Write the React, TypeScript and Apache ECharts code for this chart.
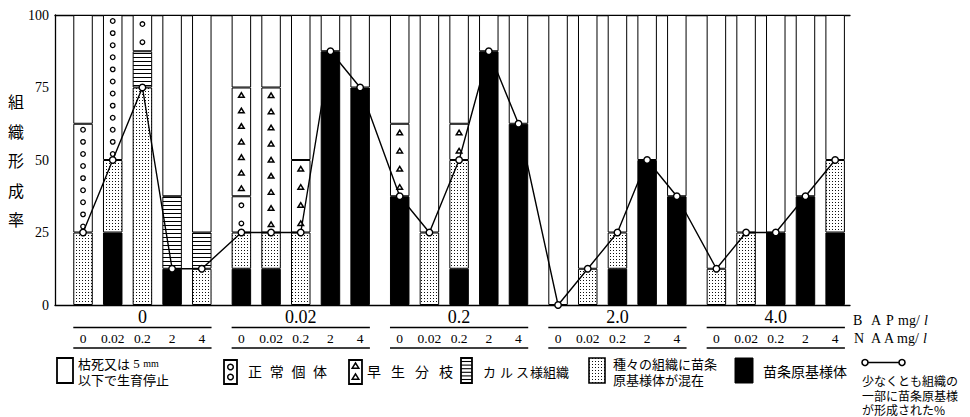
import React, { useEffect, useRef } from 'react';
import * as echarts from 'echarts';

// ---- data (order: BAP group, then NAA level within group) ----
const BAP_LEVELS = ['0', '0.02', '0.2', '2.0', '4.0'];
const NAA_LEVELS = ['0', '0.02', '0.2', '2', '4'];
const Y_MIN = 0;
const Y_MAX = 100;
const Y_STEP = 25;

// 苗条原基様体 (black)
const shootPrimordia = [0, 25, 0, 12.5, 0, 12.5, 12.5, 0, 87.5, 75, 37.5, 0, 12.5, 87.5, 62.5, 0, 0, 12.5, 50, 37.5, 0, 0, 25, 37.5, 25];
// 種々の組織に苗条原基様体が混在 (dotted)
const mixedTissue = [25, 25, 75, 0, 12.5, 12.5, 12.5, 25, 0, 0, 0, 25, 37.5, 0, 0, 0, 12.5, 12.5, 0, 0, 12.5, 25, 0, 0, 25];
// カルス様組織 (horizontal lines)
const callusTissue = [0, 0, 12.5, 25, 12.5, 0, 0, 0, 0, 0, 0, 0, 0, 0, 0, 0, 0, 0, 0, 0, 0, 0, 0, 0, 0];
// 正常個体 (circles)
const normalPlants = [37.5, 50, 12.5, 0, 0, 12.5, 0, 0, 0, 0, 0, 0, 0, 0, 0, 0, 0, 0, 0, 0, 0, 0, 0, 0, 0];
// 早生分枝 (triangles)
const earlyBranching = [0, 0, 0, 0, 0, 37.5, 50, 25, 0, 0, 25, 0, 12.5, 0, 0, 0, 0, 0, 0, 0, 0, 0, 0, 0, 0];
// 少なくとも組織の一部に苗条原基様体が形成された%
const formationRate = [25, 50, 75, 12.5, 12.5, 25, 25, 25, 87.5, 75, 37.5, 25, 50, 87.5, 62.5, 0, 12.5, 25, 50, 37.5, 12.5, 25, 25, 37.5, 50];

// ---- layout helpers: fine category slots so that groups are separated by wider gaps ----
const SLOT_COUNT = 241;
const FIRST_SLOT = 8;
const BAR_SLOTS = 9;
const GROUP_SLOTS = 48;
const BAR_W = 19.5;

const CJK = 'Noto Sans CJK JP';
const SERIF = 'Liberation Serif';

const slotOf = (i: number) => FIRST_SLOT + Math.floor(i / 5) * GROUP_SLOTS + (i % 5) * BAR_SLOTS;
const idx = shootPrimordia.map((_, i) => i);
const slots = Array.from({ length: SLOT_COUNT }, (_, k) => String(k));

function makeDots() {
  const c = document.createElement('canvas');
  c.width = 3;
  c.height = 3;
  const ctx = c.getContext('2d')!;
  ctx.fillStyle = '#fff';
  ctx.fillRect(0, 0, 3, 3);
  ctx.fillStyle = '#111';
  ctx.fillRect(1, 1, 1, 1);
  return c;
}
function makeLines() {
  const c = document.createElement('canvas');
  c.width = 4;
  c.height = 4;
  const ctx = c.getContext('2d')!;
  ctx.fillStyle = '#fff';
  ctx.fillRect(0, 0, 4, 4);
  ctx.fillStyle = '#000';
  ctx.fillRect(0, 1, 4, 1);
  return c;
}

function txt(text: string, x: number, y: number, size: number, family = CJK, extra: any = {}) {
  return {
    type: 'text',
    x,
    y,
    silent: true,
    style: {
      text,
      fill: '#000',
      fontSize: size,
      fontFamily: family,
      align: 'left',
      verticalAlign: 'middle',
      textAlign: 'left',
      textVerticalAlign: 'middle',
      ...extra,
    },
  };
}

export default function App() {
  const ref = useRef<HTMLDivElement>(null);

  useEffect(() => {
    if (!ref.current) return;
    const chart = echarts.init(ref.current, undefined, { renderer: 'svg' });
    const dots = makeDots();
    const lines = makeLines();

    const dead = idx.map(
      (i) => Y_MAX - shootPrimordia[i] - mixedTissue[i] - callusTissue[i] - normalPlants[i] - earlyBranching[i]
    );

    const toSlots = (values: number[]) => {
      const arr: any[] = slots.map(() => '-');
      idx.forEach((i) => {
        arr[slotOf(i)] =
          values[i] > 0 ? values[i] : { value: 0, itemStyle: { opacity: 0, borderWidth: 0 } };
      });
      return arr;
    };

    const barSeries = (name: string, values: number[], color: any) => ({
      name,
      type: 'bar',
      stack: 'total',
      barWidth: BAR_W,
      data: toSlots(values),
      itemStyle: { color, borderColor: '#000', borderWidth: 1 },
      emphasis: { disabled: true },
      silent: true,
      z: 2,
    });

    const lineData: any[] = slots.map(() => '-');
    idx.forEach((i) => (lineData[slotOf(i)] = formationRate[i]));

    const legendGraphics: any[] = [];
    // 1. 枯死
    legendGraphics.push({ type: 'rect', shape: { x: 57, y: 358, width: 16, height: 25 }, style: { fill: '#fff', stroke: '#000', lineWidth: 1.8 } });
    legendGraphics.push({
      type: 'text',
      x: 78,
      y: 371,
      silent: true,
      style: {
        text: '{a|枯死又は} {b|5} {c|mm}\n{a|以下で生育停止}',
        fill: '#000',
        align: 'left',
        verticalAlign: 'middle',
        textAlign: 'left',
        textVerticalAlign: 'middle',
        rich: {
          a: { fontSize: 13, fontFamily: CJK, lineHeight: 16 },
          b: { fontSize: 13, fontFamily: SERIF, lineHeight: 16 },
          c: { fontSize: 10, fontFamily: SERIF, lineHeight: 16 },
        },
      },
    });
    // 2. 正常個体
    legendGraphics.push({ type: 'rect', shape: { x: 224, y: 360, width: 13, height: 24 }, style: { fill: '#fff', stroke: '#000', lineWidth: 1.8 } });
    legendGraphics.push({ type: 'circle', shape: { cx: 230.5, cy: 367, r: 2.8 }, style: { fill: '#fff', stroke: '#000', lineWidth: 1.5 } });
    legendGraphics.push({ type: 'circle', shape: { cx: 230.5, cy: 377, r: 2.8 }, style: { fill: '#fff', stroke: '#000', lineWidth: 1.5 } });
    '正常個体'.split('').forEach((ch, k) => legendGraphics.push(txt(ch, 248 + k * 21.7, 371, 14)));
    // 3. 早生分枝
    legendGraphics.push({ type: 'rect', shape: { x: 349, y: 360, width: 13, height: 24 }, style: { fill: '#fff', stroke: '#000', lineWidth: 1.8 } });
    [366, 377].forEach((cy) =>
      legendGraphics.push({
        type: 'polygon',
        shape: { points: [[355.5, cy - 3], [352.2, cy + 2.2], [358.8, cy + 2.2]] },
        style: { fill: '#fff', stroke: '#000', lineWidth: 1.5 },
      })
    );
    '早生分枝'.split('').forEach((ch, k) => legendGraphics.push(txt(ch, 367 + k * 24, 371, 14)));
    // 4. カルス様組織
    legendGraphics.push({ type: 'rect', shape: { x: 461, y: 358, width: 11, height: 25 }, style: { fill: '#fff', stroke: '#000', lineWidth: 1.8 } });
    for (let k = 0; k < 6; k++) {
      const yy = 361.5 + k * 3.6;
      legendGraphics.push({ type: 'line', shape: { x1: 461, y1: yy, x2: 472, y2: yy }, style: { stroke: '#000', lineWidth: 1.1 } });
    }
    legendGraphics.push(txt('カ', 483, 371, 13));
    legendGraphics.push(txt('ル', 500, 371, 13));
    legendGraphics.push(txt('ス', 516, 371, 13));
    legendGraphics.push(txt('様組織', 530, 371, 13));
    // 5. 種々の組織に苗条原基様体が混在
    legendGraphics.push({ type: 'rect', shape: { x: 589, y: 358, width: 16, height: 25 }, style: { fill: { image: dots, repeat: 'repeat' }, stroke: '#000', lineWidth: 1.6 } });
    legendGraphics.push(txt('種々の組織に苗条\n原基様体が混在', 613, 371, 13, CJK, { lineHeight: 16 }));
    // 6. 苗条原基様体
    legendGraphics.push({ type: 'rect', shape: { x: 735, y: 358, width: 18, height: 25 }, style: { fill: '#000', stroke: '#000', lineWidth: 1 } });
    legendGraphics.push(txt('苗条原基様体', 763, 371, 14));
    // 7. line legend
    legendGraphics.push({ type: 'line', shape: { x1: 865, y1: 362.5, x2: 902, y2: 362.5 }, style: { stroke: '#000', lineWidth: 1.5 } });
    legendGraphics.push({ type: 'circle', shape: { cx: 865, cy: 362.5, r: 3 }, style: { fill: '#fff', stroke: '#000', lineWidth: 1.6 } });
    legendGraphics.push({ type: 'circle', shape: { cx: 902, cy: 362.5, r: 3 }, style: { fill: '#fff', stroke: '#000', lineWidth: 1.6 } });
    legendGraphics.push(txt('少なくとも組織の\n一部に苗条原基様\nが形成された%', 862, 395, 12, CJK, { lineHeight: 14.5 }));
    // axis side labels
    legendGraphics.push(txt('B', 853, 320, 14, SERIF));
    legendGraphics.push(txt('A', 871, 320, 14, SERIF));
    legendGraphics.push(txt('P', 886, 320, 14, SERIF));
    legendGraphics.push(txt('mg/', 898, 320, 14, SERIF));
    legendGraphics.push(txt('l', 924, 320, 14, SERIF, { fontStyle: 'italic' }));
    legendGraphics.push(txt('N', 854, 338, 14, SERIF));
    legendGraphics.push(txt('A', 871, 338, 14, SERIF));
    legendGraphics.push(txt('A', 884, 338, 14, SERIF));
    legendGraphics.push(txt('mg/', 897, 338, 14, SERIF));
    legendGraphics.push(txt('l', 923, 338, 14, SERIF, { fontStyle: 'italic' }));
    // y axis title
    legendGraphics.push(
      txt('組\n織\n形\n成\n率', 16, 160, 16, CJK, { align: 'center', textAlign: 'center', lineHeight: 29.5 })
    );

    const option: any = {
      animation: false,
      backgroundColor: '#fff',
      grid: { left: 55, right: 120, top: 15, bottom: 112 },
      xAxis: [
        {
          type: 'category',
          data: slots,
          axisLine: { show: true, onZero: false, lineStyle: { color: '#000', width: 1.3 } },
          axisTick: { show: false },
          axisLabel: { show: false },
          splitLine: { show: false },
        },
        {
          type: 'category',
          data: slots,
          position: 'top',
          axisLine: { show: true, onZero: false, lineStyle: { color: '#000', width: 1.3 } },
          axisTick: { show: false },
          axisLabel: { show: false },
          splitLine: { show: false },
        },
      ],
      yAxis: {
        type: 'value',
        min: Y_MIN,
        max: Y_MAX,
        interval: Y_STEP,
        axisLine: { show: true, lineStyle: { color: '#000', width: 1.3 } },
        axisTick: { show: false },
        splitLine: { show: false },
        axisLabel: { color: '#000', fontSize: 14, fontFamily: SERIF, margin: 6 },
      },
      graphic: legendGraphics,
      series: [
        barSeries('苗条原基様体', shootPrimordia, '#000'),
        barSeries('種々の組織に苗条原基様体が混在', mixedTissue, { image: dots, repeat: 'repeat' }),
        barSeries('カルス様組織', callusTissue, { image: lines, repeat: 'repeat' }),
        barSeries('正常個体', normalPlants, '#fff'),
        barSeries('早生分枝', earlyBranching, '#fff'),
        barSeries('枯死又は5mm以下で生育停止', dead, '#fff'),
        {
          name: 'symbols',
          type: 'custom',
          silent: true,
          z: 3,
          clip: false,
          encode: { x: 0, y: 1 },
          data: idx.map((i) => [
            slotOf(i),
            shootPrimordia[i] + mixedTissue[i] + callusTissue[i],
            normalPlants[i],
            earlyBranching[i],
          ]),
          renderItem: (params: any, api: any) => {
            const x = api.value(0);
            const b = api.value(1);
            const n = api.value(2);
            const e = api.value(3);
            const cx = api.coord([x, 0])[0];
            const children: any[] = [];
            const col = (lo: number, hi: number, kind: string) => {
              if (hi <= lo) return;
              const y0 = api.coord([x, lo])[1];
              const y1 = api.coord([x, hi])[1];
              const h = y0 - y1;
              const count = Math.max(1, Math.round((h - 8) / (kind === 'c' ? 11.5 : 14.5)));
              for (let k = 0; k < count; k++) {
                const cy = y1 + ((k + 0.5) * h) / count;
                if (kind === 'c') {
                  children.push({ type: 'circle', shape: { cx, cy, r: 2.3 }, style: { fill: '#fff', stroke: '#000', lineWidth: 1.3 } });
                } else {
                  children.push({
                    type: 'polygon',
                    shape: { points: [[cx, cy - 2.6], [cx - 2.8, cy + 2], [cx + 2.8, cy + 2]] },
                    style: { fill: '#fff', stroke: '#000', lineWidth: 1.5 },
                  });
                }
              }
            };
            col(b, b + n, 'c');
            col(b + n, b + n + e, 't');
            return { type: 'group', children };
          },
        },
        {
          name: 'labels',
          type: 'custom',
          silent: true,
          z: 3,
          clip: false,
          encode: { x: 0, y: 1 },
          data: idx.map((i) => [slotOf(i), i % 5, Math.floor(i / 5)]),
          renderItem: (params: any, api: any) => {
            const x = api.value(0);
            const j = api.value(1);
            const g = api.value(2);
            const p = api.coord([x, 0]);
            const cx = p[0];
            const y0 = p[1];
            const children: any[] = [
              {
                type: 'text',
                x: cx,
                y: y0 + 33,
                style: {
                  text: NAA_LEVELS[j],
                  fill: '#000',
                  fontSize: 13.5,
                  fontFamily: SERIF,
                  align: 'center',
                  verticalAlign: 'middle',
                  textAlign: 'center',
                  textVerticalAlign: 'middle',
                },
              },
            ];
            if (j === 2) {
              children.push({
                type: 'text',
                x: cx,
                y: y0 + 12,
                style: {
                  text: BAP_LEVELS[g],
                  fill: '#000',
                  fontSize: 18,
                  fontFamily: SERIF,
                  align: 'center',
                  verticalAlign: 'middle',
                  textAlign: 'center',
                  textVerticalAlign: 'middle',
                },
              });
            }
            if (j === 0) {
              const xr = api.coord([x + 4 * BAR_SLOTS, 0])[0];
              const l = cx - BAR_W / 2;
              const r = xr + BAR_W / 2;
              children.push({ type: 'line', shape: { x1: l, y1: y0 + 22.5, x2: r, y2: y0 + 22.5 }, style: { stroke: '#000', lineWidth: 1.6 } });
              children.push({ type: 'line', shape: { x1: l, y1: y0 + 43, x2: r, y2: y0 + 43 }, style: { stroke: '#000', lineWidth: 1.6 } });
            }
            return { type: 'group', children };
          },
        },
        {
          name: '少なくとも組織の一部に苗条原基様体が形成された%',
          type: 'line',
          z: 5,
          data: lineData,
          connectNulls: true,
          symbol: 'circle',
          symbolSize: 6.5,
          showSymbol: true,
          showAllSymbol: true,
          lineStyle: { color: '#000', width: 1.4 },
          itemStyle: { color: '#fff', borderColor: '#000', borderWidth: 1.4 },
          emphasis: { disabled: true },
          silent: true,
        },
      ],
    };

    chart.setOption(option);
    return () => chart.dispose();
  }, []);

  return (
    <div
      ref={ref}
      style={{ position: 'absolute', left: 0, top: 0, width: 970, height: 417, background: '#fff' }}
    />
  );
}
